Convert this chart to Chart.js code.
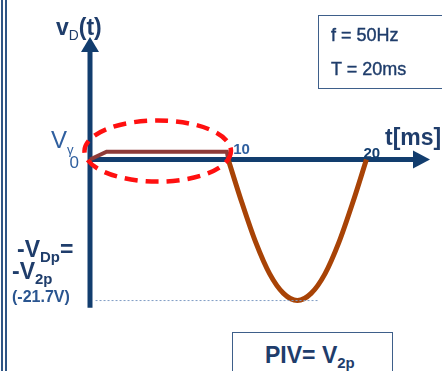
<!DOCTYPE html>
<html>
<head>
<meta charset="utf-8">
<script src="https://cdn.jsdelivr.net/npm/chart.js@4.4.1/dist/chart.umd.min.js"></script>
<style>
  body { margin: 0; background: #fff; font-family: "Liberation Sans", Arial, sans-serif; }
  #wrap { position: relative; width: 442px; height: 371px; overflow: hidden; }
  #wrap canvas { position: absolute; left: 0; top: 0; }
  .lbl { position: absolute; white-space: nowrap; color: #1f3d6b; font-weight: bold; line-height: 1; }
  .lbl sub { font-size: 65%; vertical-align: -0.35em; }
  .border { position: absolute; left: 1px; top: 0; width: 2px; height: 371px; border-left: 2px solid #2f5585; border-right: 2px solid #2f5585; }
  .box { position: absolute; border: 1.5px solid #3e5f8a; background: #fff; }
</style>
</head>
<body>
<div id="wrap">
  <canvas id="chart" width="442" height="371"></canvas>
  <div class="border"></div>
  <div class="lbl" style="left:56px; top:16px; font-size:23px;">v<sub style="font-weight:normal; font-size:60%;">D</sub>(t)</div>
  <div class="lbl" style="left:51px; top:128px; font-size:24px; font-weight:normal; color:#2f5f9f;">V<sub style="font-size:55%; vertical-align:-0.45em;">γ</sub></div>
  <div class="lbl" style="left:385px; top:126px; font-size:23px;">t[ms]</div>
  <div class="lbl" style="left:17px; top:238px; font-size:23px;">-V<sub>Dp</sub>=</div>
  <div class="lbl" style="left:12px; top:260px; font-size:23px;">-V<sub>2p</sub></div>
  <div class="lbl" style="left:12px; top:289px; font-size:16px; color:#2a5590;">(-21.7V)</div>
  <div class="box" style="left:318px; top:15px; width:140px; height:72px;">
    <div class="lbl" style="left:12px; top:10px; font-size:18px; font-weight:normal; -webkit-text-stroke:0.4px #1f3d6b;">f = 50Hz</div>
    <div class="lbl" style="left:12px; top:44px; font-size:18px; font-weight:normal; -webkit-text-stroke:0.4px #1f3d6b;">T = 20ms</div>
  </div>
  <div class="box" style="left:232px; top:332px; width:159px; height:60px;">
    <div class="lbl" style="left:32px; top:11px; font-size:23px;">PIV= V<sub>2p</sub></div>
  </div>
</div>
<script>
// diode on: v_D sits at V_gamma (exaggerated) for the first half period
const flatT = [0, 1.2, 9.9, 10];
const flatV = [0, 1.2, 1.2, 0];
// diode off: v_D follows the negative half of the source
const halfT = [10, 11, 12, 13, 14, 15, 16, 17, 18, 19, 20];
const halfV = [0, -6.7, -12.8, -17.6, -20.6, -21.7, -20.6, -17.6, -12.8, -6.7, 0];
// peak level guide
const peakT = [0.4, 16.5];
const peakV = [-21.7, -21.7];
const tickT = [10, 20];
const tickLabels = ['10', '20'];

const toPts = (xs, ys) => xs.map((x, i) => ({ x: x, y: ys[i] }));

const navy = '#123d6e';

const axesPlugin = {
    id: 'axes',
    beforeDatasetsDraw(chart) {
        const { ctx, scales: { x, y } } = chart;
        const x0 = x.getPixelForValue(0);
        const y0 = y.getPixelForValue(0);
        const yTop = y.getPixelForValue(19) + 1;
        const yBot = y.getPixelForValue(-22.8);
        const xEnd = x.getPixelForValue(24.6);
        ctx.save();
        ctx.strokeStyle = navy;
        ctx.fillStyle = navy;
        ctx.lineWidth = 5;
        // vertical axis
        ctx.beginPath();
        ctx.moveTo(x0, yBot);
        ctx.lineTo(x0, yTop + 12);
        ctx.stroke();
        ctx.beginPath();
        ctx.moveTo(x0, yTop);
        ctx.lineTo(x0 - 9, yTop + 15);
        ctx.lineTo(x0 + 9, yTop + 15);
        ctx.closePath();
        ctx.fill();
        // horizontal axis
        ctx.beginPath();
        ctx.moveTo(x0, y0);
        ctx.lineTo(xEnd - 12, y0);
        ctx.stroke();
        ctx.beginPath();
        ctx.moveTo(xEnd, y0);
        ctx.lineTo(xEnd - 17, y0 - 9);
        ctx.lineTo(xEnd - 17, y0 + 9);
        ctx.closePath();
        ctx.fill();
        // tick labels
        ctx.font = 'bold 15px "Liberation Sans", Arial, sans-serif';
        ctx.textBaseline = 'alphabetic';
        ctx.textAlign = 'left';
        ctx.fillStyle = '#2f5f9f';
        ctx.fillText(tickLabels[0], x.getPixelForValue(tickT[0]) + 5, y0 - 6);
        ctx.fillStyle = navy;
        ctx.fillText(tickLabels[1], x.getPixelForValue(tickT[1]) - 3, y0 - 2);
        ctx.font = '17px "Liberation Sans", Arial, sans-serif';
        ctx.fillStyle = '#2f5f9f';
        ctx.textAlign = 'right';
        ctx.fillText('0', x0 - 11, y0 + 8);
        ctx.restore();
    },
    afterDatasetsDraw(chart) {
        const { ctx, scales: { x, y } } = chart;
        // dashed ellipse round the conduction interval
        const cx = x.getPixelForValue(4.9);
        const cy = y.getPixelForValue(1.3);
        const rx = x.getPixelForValue(10.2) - cx;
        const ry = y.getPixelForValue(-3.4) - cy;
        ctx.save();
        ctx.strokeStyle = '#ff1010';
        ctx.lineWidth = 4.5;
        ctx.setLineDash([13, 8]);
        ctx.beginPath();
        ctx.ellipse(cx, cy, rx, ry, 0, 0, Math.PI * 2);
        ctx.stroke();
        ctx.restore();
    }
};

new Chart(document.getElementById('chart'), {
    type: 'line',
    data: {
        datasets: [
            {
                data: toPts(peakT, peakV),
                borderColor: '#7f9cc4',
                borderWidth: 1,
                borderDash: [2, 2],
                pointRadius: 0
            },
            {
                data: toPts(flatT, flatV),
                borderColor: '#8e3b38',
                borderWidth: 4,
                pointRadius: 0,
                tension: 0
            },
            {
                data: toPts(halfT, halfV),
                borderColor: '#a84306',
                borderWidth: 5,
                pointRadius: 0,
                cubicInterpolationMode: 'monotone'
            }
        ]
    },
    options: {
        responsive: false,
        animation: false,
        events: [],
        clip: false,
        layout: { padding: { left: 90, right: 12, top: 36, bottom: 62 } },
        plugins: { legend: { display: false }, tooltip: { enabled: false } },
        scales: {
            x: { type: 'linear', min: 0, max: 24.6, display: false },
            y: { type: 'linear', min: -23, max: 19, display: false }
        }
    },
    plugins: [axesPlugin]
});
</script>
</body>
</html>
